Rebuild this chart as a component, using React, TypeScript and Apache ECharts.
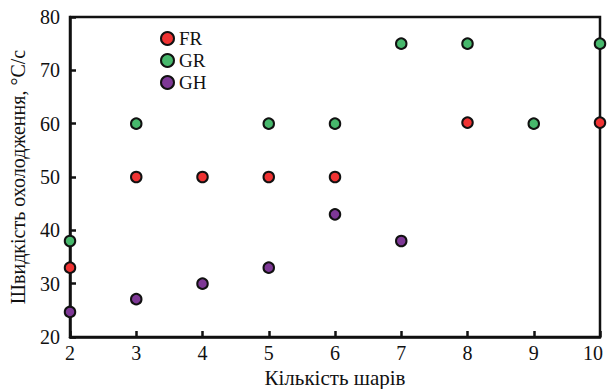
import React, { useEffect, useRef } from "react";
import * as echarts from "echarts";

const seriesNames = ["FR", "GR", "GH"];
const frData: [number, number][] = [[2, 33], [3, 50], [4, 50], [5, 50], [6, 50], [8, 60.2], [10, 60.2]];
const grData: [number, number][] = [[2, 38], [3, 60], [5, 60], [6, 60], [7, 75], [8, 75], [9, 60], [10, 75]];
const ghData: [number, number][] = [[2, 24.7], [3, 27.1], [4, 30], [5, 33], [6, 43], [7, 38]];
const colors = ["#f03333", "#47b86c", "#7e3896"];
const xTitle = "Кількість шарів";
const yTitle = "Швидкість охолодження, °C/c";

export default function App() {
  const ref = useRef<HTMLDivElement>(null);
  useEffect(() => {
    if (!ref.current) return;
    const chart = echarts.init(ref.current, undefined, { renderer: "svg" });
    const font = "'Times New Roman', 'Liberation Serif', serif";
    const datasets = [frData, grData, ghData];
    chart.setOption({
      animation: false,
      backgroundColor: "#fff",
      textStyle: { fontFamily: font },
      grid: {
        left: 70, right: 7, top: 17, bottom: 52,
        outerBoundsMode: "none", containLabel: false,
        show: true, borderColor: "#111", borderWidth: 2.5, backgroundColor: "transparent",
      },
      legend: {
        show: true, orient: "vertical", left: 155, top: 24,
        itemWidth: 13, itemHeight: 13, itemGap: 3, icon: "circle",
        textStyle: { fontFamily: font, fontSize: 19, color: "#111" },
        data: seriesNames,
      },
      xAxis: {
        type: "value", min: 2, max: 10, interval: 1,
        name: xTitle, nameLocation: "middle", nameGap: 21,
        nameTextStyle: { fontFamily: font, fontSize: 21, color: "#111" },
        axisLine: { show: true, onZero: false, lineStyle: { color: "#111", width: 2.5 } },
        axisTick: { show: true, inside: true, length: 6, lineStyle: { color: "#111", width: 2.5 } },
        axisLabel: {
          fontFamily: font, fontSize: 20, color: "#111", margin: 6,
          formatter: (v: number) => (v === 10 ? "{m|" + v + "}" : String(v)),
          rich: { m: { fontFamily: font, fontSize: 20, color: "#111", padding: [0, 14, 0, 0] } },
        },
        splitLine: { show: false },
      },
      yAxis: {
        type: "value", min: 20, max: 80, interval: 10,
        name: yTitle, nameLocation: "middle", nameGap: 42,
        nameTextStyle: { fontFamily: font, fontSize: 20, color: "#111" },
        axisLine: { show: true, onZero: false, lineStyle: { color: "#111", width: 2.5 } },
        axisTick: { show: true, inside: true, length: 6, lineStyle: { color: "#111", width: 2.5 } },
        axisLabel: { fontFamily: font, fontSize: 20, color: "#111", margin: 10 },
        splitLine: { show: false },
      },
      series: seriesNames.map((n, i) => ({
        name: n, type: "scatter", data: datasets[i], symbol: "circle", symbolSize: 10.5,
        clip: false,
        itemStyle: { color: colors[i], borderColor: "#111", borderWidth: 2, opacity: 1 },
      })),
    });
    return () => chart.dispose();
  }, []);
  return <div ref={ref} style={{ width: 607, height: 389, position: "absolute", left: 0, top: 0 }} />;
}
